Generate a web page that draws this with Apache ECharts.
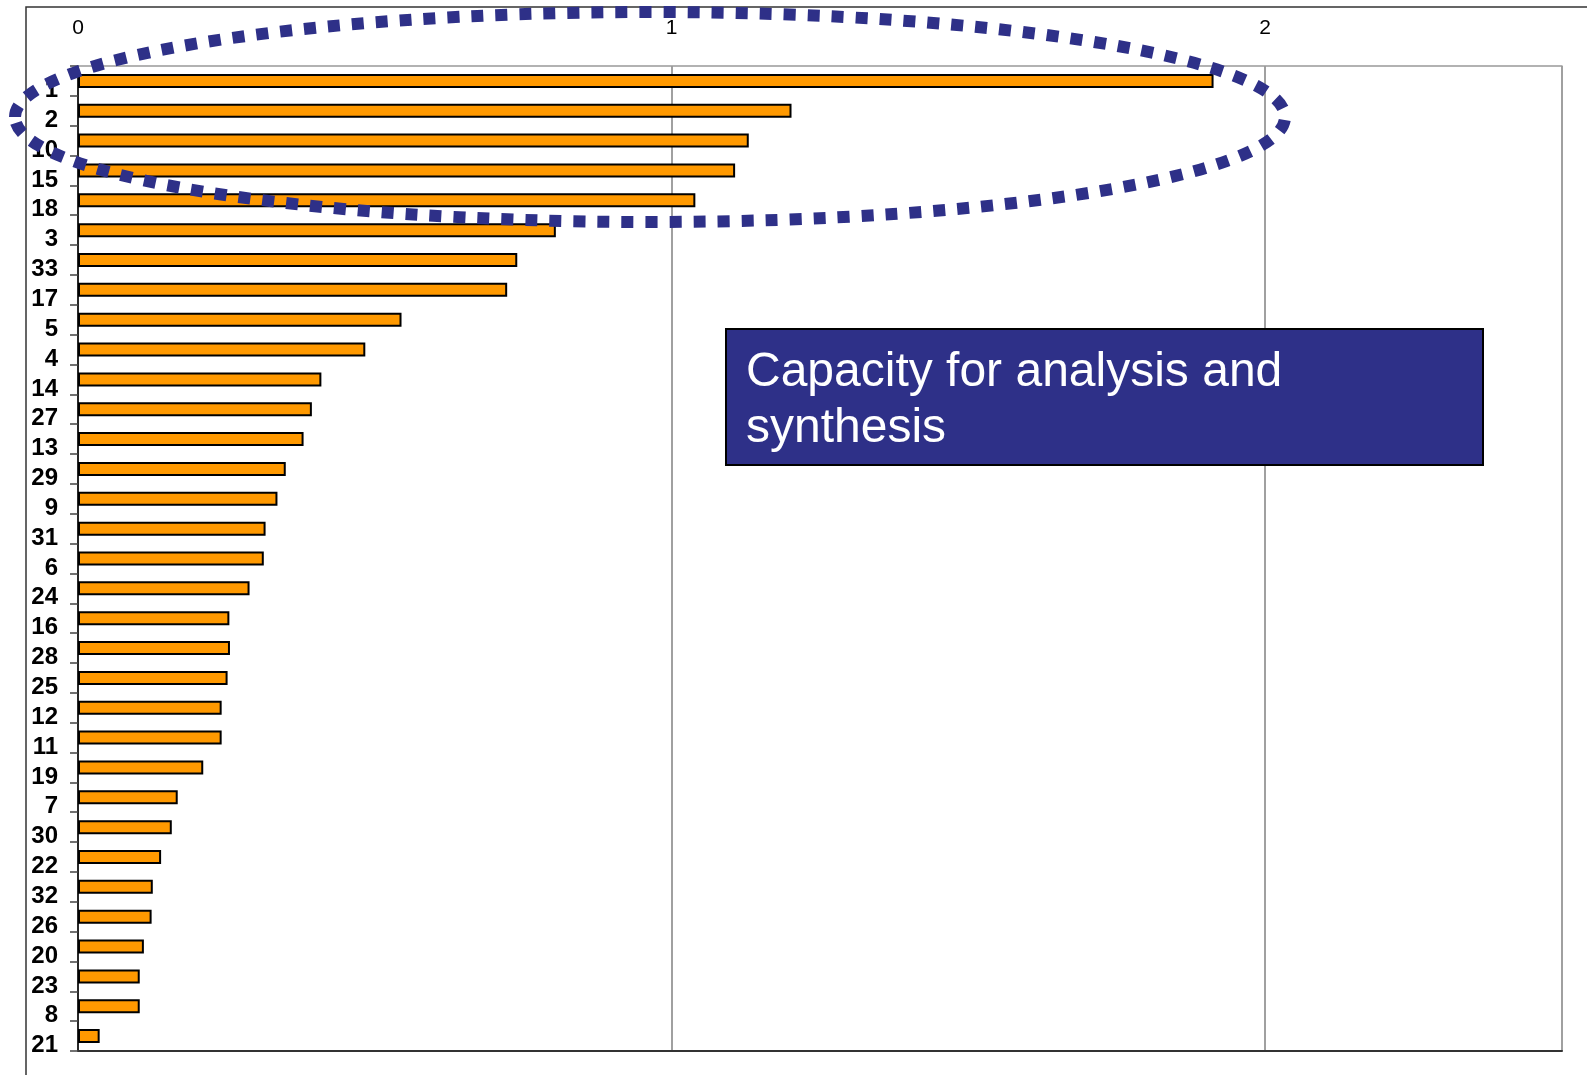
<!DOCTYPE html>
<html>
<head>
<meta charset="utf-8">
<script src="https://cdn.jsdelivr.net/npm/echarts@6/dist/echarts.min.js"></script>
<style>
html,body{margin:0;padding:0;background:#fff;}
#chart{width:1587px;height:1075px;}
</style>
</head>
<body>
<div id="chart"></div>
<script>
const categories = ['1','2','10','15','18','3','33','17','5','4','14','27','13','29','9','31','6','24','16','28','25','12','11','19','7','30','22','32','26','20','23','8','21'];
const values = [1.913,1.202,1.130,1.107,1.040,0.805,0.740,0.723,0.545,0.484,0.410,0.394,0.380,0.350,0.336,0.316,0.313,0.289,0.255,0.256,0.252,0.242,0.242,0.211,0.168,0.158,0.140,0.126,0.124,0.111,0.104,0.104,0.0365];
const xTicks = [0, 1, 2];
const boxTitleLines = ['Capacity for analysis and', 'synthesis'];

const FONT = "'Liberation Sans', Arial, Helvetica, sans-serif";
const NAVY = '#2E3088';

const chart = echarts.init(document.getElementById('chart'), null, {renderer: 'canvas'});
chart.setOption({
  animation: false,
  backgroundColor: '#ffffff',
  grid: {left: 78, top: 66, right: 25, bottom: 24, containLabel: false},
  xAxis: [{
    type: 'value', position: 'top', min: 0, max: 2.5, interval: 1,
    axisLine: {show: true, lineStyle: {color: '#999', width: 1.5}},
    axisTick: {show: false},
    axisLabel: {
      show: true, margin: 27, fontSize: 21, color: '#000', fontFamily: FONT,
      formatter: v => xTicks.includes(v) ? String(v) : ''
    },
    splitLine: {show: true, lineStyle: {color: '#808080', width: 1.5}}
  }, {
    type: 'value', position: 'bottom', min: 0, max: 2.5, interval: 1,
    axisLine: {show: true, onZero: false, lineStyle: {color: '#333', width: 2}},
    axisTick: {show: false}, axisLabel: {show: false}, splitLine: {show: false}
  }],
  yAxis: {
    type: 'category', inverse: true, data: categories,
    axisLine: {show: true, lineStyle: {color: '#000', width: 1.5}},
    axisTick: {show: true, length: 8, lineStyle: {color: '#444', width: 1.5}},
    axisLabel: {
      show: true, interval: 0, margin: 20, fontSize: 24, fontWeight: 'bold',
      color: '#000', fontFamily: FONT, verticalAlign: 'top', lineHeight: 19
    },
    splitLine: {show: false}
  },
  series: [{
    type: 'bar', xAxisIndex: 0, data: values, barWidth: 14,
    itemStyle: {color: '#FF9900', borderColor: '#000', borderWidth: 2},
    z: 2
  }],
  graphic: [
    {
      type: 'polyline', z: 1, silent: true,
      shape: {points: [[26, 1075], [26, 7], [1587, 7]]},
      style: {stroke: '#333', lineWidth: 1.5, fill: null}
    },
    {
      type: 'ellipse', z: 100, silent: true,
      shape: {cx: 650, cy: 117, rx: 635, ry: 105},
      style: {fill: null, stroke: NAVY, lineWidth: 12, lineDash: [12, 12]}
    },
    {
      type: 'rect', z: 90, silent: true,
      shape: {x: 726, y: 329, width: 757, height: 136},
      style: {fill: NAVY, stroke: '#000', lineWidth: 2}
    },
    {
      type: 'text', z: 91, silent: true, x: 746, y: 373,
      style: {text: boxTitleLines[0], fill: '#fff', font: '48px ' + FONT, verticalAlign: 'middle', align: 'left'}
    },
    {
      type: 'text', z: 91, silent: true, x: 746, y: 429,
      style: {text: boxTitleLines[1], fill: '#fff', font: '48px ' + FONT, verticalAlign: 'middle', align: 'left'}
    }
  ]
});
</script>
</body>
</html>
